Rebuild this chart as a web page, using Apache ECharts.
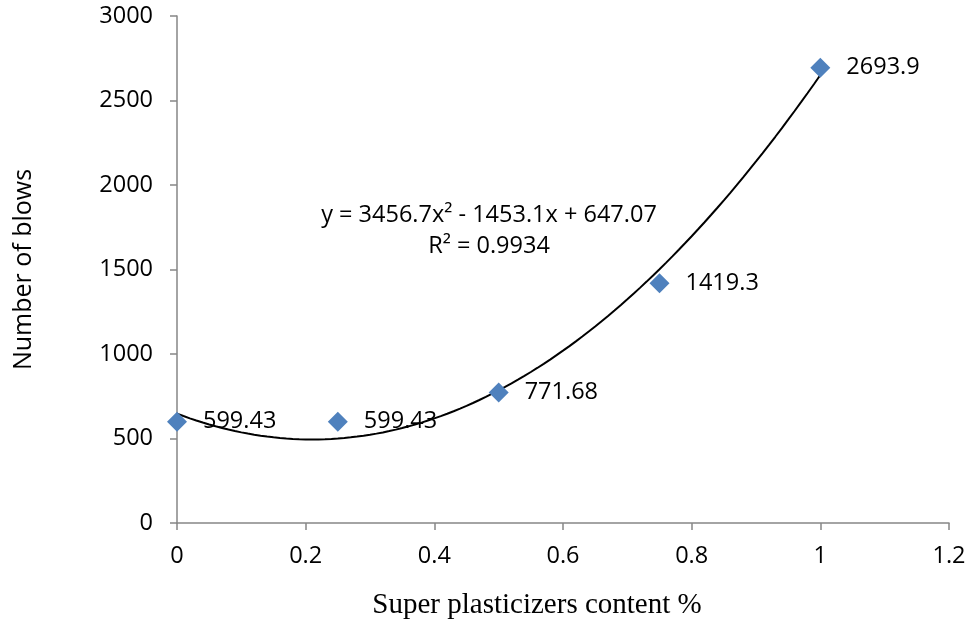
<!DOCTYPE html>
<html>
<head>
<meta charset="utf-8">
<script src="https://cdn.jsdelivr.net/npm/echarts@6/dist/echarts.min.js"></script>
<style>
html,body{margin:0;padding:0;background:#fff;}
#chart{width:969px;height:628px;}
</style>
</head>
<body>
<div id="chart"></div>
<script>
// Data
const xValues = [0, 0.25, 0.5, 0.75, 1];
const blows = [599.43, 599.43, 771.68, 1419.3, 2693.9];
const pointLabels = ['599.43', '599.43', '771.68', '1419.3', '2693.9'];
// Excel polynomial trendline shown on the chart: y = a x^2 + b x + c
const trendCoefficients = [3456.7, -1453.1, 647.07];
const trendRange = [0, 1];
const equationText = 'y = 3456.7x² - 1453.1x + 647.07';
const r2Text = 'R² = 0.9934';
const xTicks = [0, 0.2, 0.4, 0.6, 0.8, 1, 1.2];
const yTicks = [0, 500, 1000, 1500, 2000, 2500, 3000];

const trend = [];
const steps = 100;
for (let i = 0; i <= steps; i++) {
  const x = trendRange[0] + (trendRange[1] - trendRange[0]) * i / steps;
  const [a, b, c] = trendCoefficients;
  trend.push([x, a * x * x + b * x + c]);
}

const chart = echarts.init(document.getElementById('chart'));
const axisFont = {fontFamily: 'Open Sans', fontSize: 23.5, color: '#000'};
chart.setOption({
  animation: false,
  backgroundColor: '#fff',
  grid: {left: 177, right: 20, top: 16, bottom: 105, containLabel: false, outerBoundsMode: 'none'},
  xAxis: {
    type: 'value', min: xTicks[0], max: xTicks[xTicks.length - 1], interval: 0.2,
    axisLine: {show: true, lineStyle: {color: '#868686', width: 1.5}},
    axisTick: {show: true, length: 7, lineStyle: {color: '#868686', width: 1.5}},
    splitLine: {show: false},
    axisLabel: Object.assign({margin: 21, formatter: v => String(parseFloat(v.toFixed(1)))}, axisFont)
  },
  yAxis: {
    type: 'value', min: yTicks[0], max: yTicks[yTicks.length - 1], interval: 500,
    name: 'Number of blows', nameLocation: 'middle', nameGap: 141,
    nameTextStyle: {fontFamily: 'Open Sans', fontSize: 25, color: '#000'},
    axisLine: {show: true, lineStyle: {color: '#868686', width: 1.5}},
    axisTick: {show: true, length: 7, lineStyle: {color: '#868686', width: 1.5}},
    splitLine: {show: false},
    axisLabel: Object.assign({margin: 24, formatter: v => String(v)}, axisFont)
  },
  graphic: [
    {type: 'text', style: {x: 537, y: 605, text: 'Super plasticizers content %', font: '29px "Liberation Serif"', fill: '#000', align: 'center', verticalAlign: 'middle'}, z: 10},
    {type: 'text', style: {x: 489, y: 215, text: equationText, font: '23.5px "Open Sans"', fill: '#000', align: 'center', verticalAlign: 'middle'}, z: 10},
    {type: 'text', style: {x: 489, y: 246, text: r2Text, font: '23.5px "Open Sans"', fill: '#000', align: 'center', verticalAlign: 'middle'}, z: 10}
  ],
  series: [
    {
      type: 'line', data: trend, showSymbol: false, smooth: false,
      lineStyle: {color: '#000', width: 2}, z: 2, silent: true
    },
    {
      type: 'scatter',
      data: xValues.map((x, i) => [x, blows[i]]),
      symbol: 'diamond', symbolSize: [20, 20],
      itemStyle: {color: '#4F81BD', opacity: 1},
      z: 3,
      label: {
        show: true, position: 'right', distance: 16,
        formatter: p => pointLabels[p.dataIndex],
        fontFamily: 'Open Sans', fontSize: 23.5, color: '#000', opacity: 1
      }
    }
  ]
});
</script>
</body>
</html>
